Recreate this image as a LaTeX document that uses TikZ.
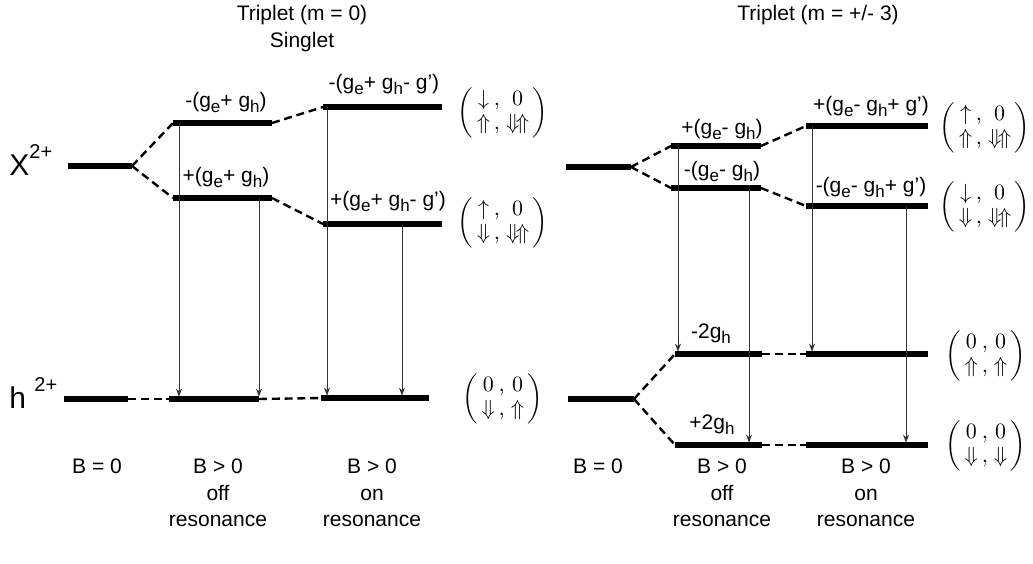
\documentclass[tikz,border=0pt]{standalone}
\usepackage{amsmath,amssymb}
\usepackage{fontspec}
\setmainfont{Liberation Sans}
\usetikzlibrary{arrows.meta}
\tikzset{
  every picture/.style={line join=round, >=Stealth},
  level/.style={line width=2.6pt},
  split/.style={line width=1.2pt, dash pattern=on 4pt off 2.4pt},
  trans/.style={-{Stealth[length=4pt,width=3pt]}, line width=0.45pt, black!80, shorten >=1.2pt},
  shiftlbl/.style={anchor=base, inner sep=0pt, font=\fontsize{10.5}{12}\selectfont},
  caption/.style={anchor=base, inner sep=0pt, font=\fontsize{10.5}{12}\selectfont},
  state/.style={inner sep=0pt, font=\fontsize{10.5}{12}\selectfont},
  carrier/.style={anchor=base west, inner sep=0pt, font=\fontsize{15}{17}\selectfont},
}
\newcommand{\lvl}[4]{% name, x1, x2, y
  \coordinate (#1-l) at (#2,#4);
  \coordinate (#1-r) at (#3,#4);
  \draw[level] (#1-l) -- (#1-r);}
\newcommand{\spinpair}[4]{$\renewcommand{\arraystretch}{1}\left(\begin{array}{@{\,}c@{\,}c@{\;}c@{\,}}#1&,&#2\\#3&,&#4\end{array}\right)$}
\newcommand{\lsub}[1]{\raisebox{-0.5ex}{\fontsize{8.5}{9}\selectfont #1}}
\newcommand{\chg}{\raisebox{1.05ex}{\fontsize{10}{11}\selectfont 2+}}

\begin{document}
\begin{tikzpicture}[x=0.5pt,y=-0.5pt]
\useasboundingbox (0,0) rectangle (1033,563);

% titles
\node[caption] (t1) at (302,20) {Triplet (m = 0)};
\node[caption] (t2) at (302,47) {Singlet};
\node[caption] (t3) at (818,20) {Triplet (m = +/- 3)};

% carriers
\node[carrier] (xlbl) at (9,175) {X\chg};
\node[carrier] (hlbl) at (9,408) {h \chg};

% left panel levels
\lvl{x}{68}{132}{166}
\lvl{h}{64}{128}{399}
\lvl{off1}{173}{272}{123}
\lvl{off2}{173}{272}{198}
\lvl{hoff}{169}{259}{399}
\lvl{on1}{323}{442}{107}
\lvl{on2}{323}{442}{224}
\lvl{hon}{321}{429}{398}

\draw[split] (x-r) -- (off1-l);
\draw[split] (x-r) -- (off2-l);
\draw[split] (off1-r) -- (on1-l);
\draw[split] (off2-r) -- (on2-l);
\draw[split] (h-r) -- (hoff-l);
\draw[split] (hoff-r) -- (hon-l);

\coordinate (a1) at (179,123);
\coordinate (a2) at (259,198);
\coordinate (a3) at (327,107);
\coordinate (a4) at (402,224);
\draw[trans] (a1) -- (a1 |- hoff-l);
\draw[trans] (a2) -- (a2 |- hoff-l);
\draw[trans] (a3) -- (a3 |- hon-l);
\draw[trans] (a4) -- (a4 |- hon-l);

\node[shiftlbl] (e1) at (226,107) {-(g\lsub{e}+ g\lsub{h})};
\node[shiftlbl] (e2) at (226,182) {+(g\lsub{e}+ g\lsub{h})};
\node[shiftlbl] (e3) at (384,89) {-(g\lsub{e}+ g\lsub{h}- g')};
\node[shiftlbl] (e4) at (388,206) {+(g\lsub{e}+ g\lsub{h}- g')};

\node[state] (s1) at (503,113) {\spinpair{\downarrow}{0}{\Uparrow}{\Downarrow\!\Uparrow}};
\node[state] (s2) at (503,223) {\spinpair{\uparrow}{0}{\Downarrow}{\Downarrow\!\Uparrow}};
\node[state] (s3) at (503,399) {\spinpair{0}{0}{\Downarrow}{\Uparrow}};

% right panel levels
\lvl{xr}{566}{631}{167}
\lvl{hr}{568}{634}{399}
\lvl{up}{671}{761}{146}
\lvl{dn}{671}{761}{188}
\lvl{mh}{675}{762}{354}
\lvl{ph}{675}{762}{445}
\lvl{onup}{806}{928}{126}
\lvl{ondn}{806}{928}{206}
\lvl{onmh}{806}{928}{354}
\lvl{onph}{806}{928}{445}

\draw[split] (xr-r) -- (up-l);
\draw[split] (xr-r) -- (dn-l);
\draw[split] (up-r) -- (onup-l);
\draw[split] (dn-r) -- (ondn-l);
\draw[split] (hr-r) -- (mh-l);
\draw[split] (hr-r) -- (ph-l);
\draw[split] (mh-r) -- (onmh-l);
\draw[split] (ph-r) -- (onph-l);

\coordinate (b1) at (678,146);
\coordinate (b2) at (749,188);
\coordinate (b3) at (812,126);
\coordinate (b4) at (906,206);
\draw[trans] (b1) -- (b1 |- mh-l);
\draw[trans] (b2) -- (b2 |- ph-l);
\draw[trans] (b3) -- (b3 |- onmh-l);
\draw[trans] (b4) -- (b4 |- onph-l);

\node[shiftlbl] (f1) at (722,134) {+(g\lsub{e}- g\lsub{h})};
\node[shiftlbl] (f2) at (722,176) {-(g\lsub{e}- g\lsub{h})};
\node[shiftlbl] (f3) at (871,111) {+(g\lsub{e}- g\lsub{h}+ g')};
\node[shiftlbl] (f4) at (871,192) {-(g\lsub{e}- g\lsub{h}+ g')};
\node[shiftlbl] (f5) at (711,338) {-2g\lsub{h}};
\node[shiftlbl] (f6) at (712,429) {+2g\lsub{h}};

\node[state] (s4) at (985,128) {\spinpair{\uparrow}{0}{\Uparrow}{\Downarrow\!\Uparrow}};
\node[state] (s5) at (985,207) {\spinpair{\downarrow}{0}{\Downarrow}{\Downarrow\!\Uparrow}};
\node[state] (s6) at (986,356) {\spinpair{0}{0}{\Uparrow}{\Uparrow}};
\node[state] (s7) at (986,446) {\spinpair{0}{0}{\Downarrow}{\Downarrow}};

% field captions
\foreach \cx/\toprow/\midrow in {97/B = 0/, 218/B > 0/off, 372/B > 0/on, 598/B = 0/, 722/B > 0/off, 866/B > 0/on}{
  \node[caption] at (\cx,473) {\toprow};
  \node[caption] at (\cx,500) {\midrow};
}
\foreach \cx in {218,372,722,866}
  \node[caption] at (\cx,526) {resonance};
\end{tikzpicture}
\end{document}
